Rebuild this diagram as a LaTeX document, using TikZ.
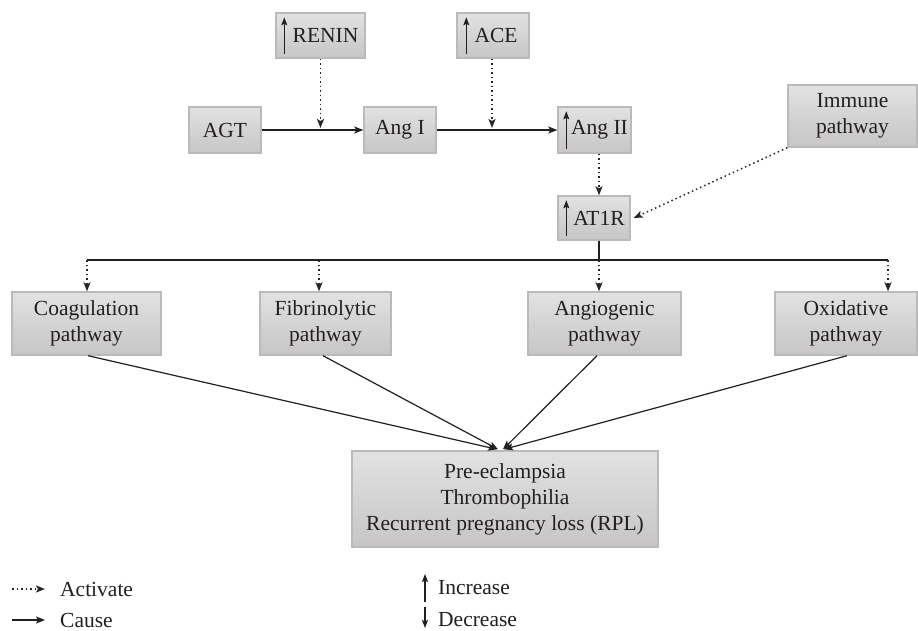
\documentclass[tikz,border=0pt]{standalone}
\usepackage{fontspec}
\setmainfont{Liberation Serif}
\usetikzlibrary{arrows.meta,calc}
\definecolor{boxtop}{RGB}{226,226,226}
\definecolor{boxbot}{RGB}{199,197,197}
\definecolor{boxline}{RGB}{186,186,186}
\definecolor{ink}{RGB}{35,31,32}
\definecolor{dotink}{RGB}{40,40,40}
\begin{document}
\begin{tikzpicture}[x=1pt,y=-1pt,
  box/.style={draw=boxline, line width=1.4pt, top color=boxtop, bottom color=boxbot,
    inner sep=0pt, align=center, text=ink, font=\fontsize{21.5}{26}\selectfont},
  legtext/.style={anchor=west, inner sep=0pt, text=ink, font=\fontsize{21.5}{26}\selectfont},
  tip/.style={-{Stealth[length=9pt,width=7pt,inset=2pt]}},
  cause/.style={tip, draw=ink, line width=1.2pt},
  activate/.style={tip, draw=dotink, line width=1.5pt, dash pattern=on 1.5pt off 3pt},
  incr/.style={draw=ink, line width=1.2pt, -{Stealth[length=8pt,width=6pt,inset=1.5pt]}},
  bus/.style={draw=ink, line width=1.2pt}]
\useasboundingbox (0,0) rectangle (918,630);
\fill[white] (0,0) rectangle (918,630);

% top row
\node[box, minimum width=89pt, minimum height=45pt] (renin) at (320.5,35.5) {\hspace*{10pt}RENIN};
\node[box, minimum width=72pt, minimum height=45pt] (ace) at (493,35.5) {\hspace*{6pt}ACE};
\node[box, minimum width=72pt, minimum height=46pt] (agt) at (225,130) {AGT};
\node[box, minimum width=72pt, minimum height=46pt] (ang1) at (400,130) {Ang I};
\node[box, minimum width=73pt, minimum height=46pt] (ang2) at (594.5,130) {\hspace*{10pt}Ang II};
\node[box, minimum width=129pt, minimum height=62pt] (immune) at (852.5,116) {Immune\\pathway};
\node[box, minimum width=72pt, minimum height=44pt] (at1r) at (594,218) {\hspace*{10pt}AT1R};

% pathways
\node[box, minimum width=149pt, minimum height=63pt] (coag) at (86.5,323.5) {Coagulation\\pathway};
\node[box, minimum width=131pt, minimum height=63pt] (fib) at (325.5,323.5) {Fibrinolytic\\pathway};
\node[box, minimum width=153pt, minimum height=63pt] (angio) at (604.5,323.5) {Angiogenic\\pathway};
\node[box, minimum width=142pt, minimum height=63pt] (oxid) at (846,323.5) {Oxidative\\pathway};

% outcome
\node[box, minimum width=306pt, minimum height=96pt] (out) at (505,499) {Pre-eclampsia\\Thrombophilia\\Recurrent pregnancy loss (RPL)};

% increase arrows inside boxes
\draw[incr] ($(renin.south west)+(9,-5)$) -- ($(renin.north west)+(9,5)$);
\draw[incr] ($(ace.south west)+(10,-5)$) -- ($(ace.north west)+(10,5)$);
\draw[incr] ($(ang2.south west)+(9,-5)$) -- ($(ang2.north west)+(9,5)$);
\draw[incr] ($(at1r.south west)+(9,-5)$) -- ($(at1r.north west)+(9,5)$);

% RAS chain
\draw[cause] (agt.east) -- (ang1.west);
\draw[cause] (ang1.east) -- (ang2.west);
\coordinate (rj) at (renin.south |- agt.east);
\coordinate (aj) at ($(ace.south |- agt.east)+(-1,0)$);
\draw[activate] (renin.south) -- ($(rj)+(0,-2)$);
\draw[activate] ($(ace.south)+(-1,0)$) -- ($(aj)+(0,-2)$);
\draw[activate] ($(ang2.south)+(4.5,0)$) -- ($(at1r.north)+(5,0)$);
\draw[activate] (immune.south west) -- ($(at1r.east)+(3,0)$);

% bus
\coordinate (b0) at ($(at1r.south)+(5,0)$);
\coordinate (bj) at (599,260);
\coordinate (bl) at (87,260);
\coordinate (bf) at (319,260);
\coordinate (br) at (888,260);
\draw[bus] (b0) -- (bj);
\draw[bus] (bl) -- (br);
\draw[activate] (bl) -- (bl |- coag.north);
\draw[activate] (bf) -- (bf |- fib.north);
\draw[activate] (bj) -- (bj |- angio.north);
\draw[activate] (br) -- (br |- oxid.north);

% to outcome
\draw[cause] ($(coag.south)+(1.5,0)$) -- ($(out.north)+(-8,-1)$);
\draw[cause] ($(fib.south)+(-2.5,0)$) -- ($(out.north)+(-7,-1)$);
\draw[cause] ($(angio.south)+(-7.5,0)$) -- ($(out.north)+(-2,-1)$);
\draw[cause] ($(oxid.south)+(1,0)$) -- ($(out.north)+(-1,-1)$);

% legend
\coordinate (la0) at (12,589); \coordinate (la1) at (45,589);
\coordinate (lc0) at (12,620); \coordinate (lc1) at (45,620);
\draw[activate] (la0) -- (la1);
\draw[cause] (lc0) -- (lc1);
\node[legtext] (lact) at (60,589) {Activate};
\node[legtext] (lcause) at (60,620) {Cause};
\coordinate (li0) at (425,602); \coordinate (li1) at (425,574);
\coordinate (ld0) at (425,607); \coordinate (ld1) at (425,628);
\draw[incr] (li0) -- (li1);
\draw[incr] (ld0) -- (ld1);
\node[legtext] (linc) at (438,588) {Increase};
\node[legtext] (ldec) at (438,620) {Decrease};
\end{tikzpicture}
\end{document}
